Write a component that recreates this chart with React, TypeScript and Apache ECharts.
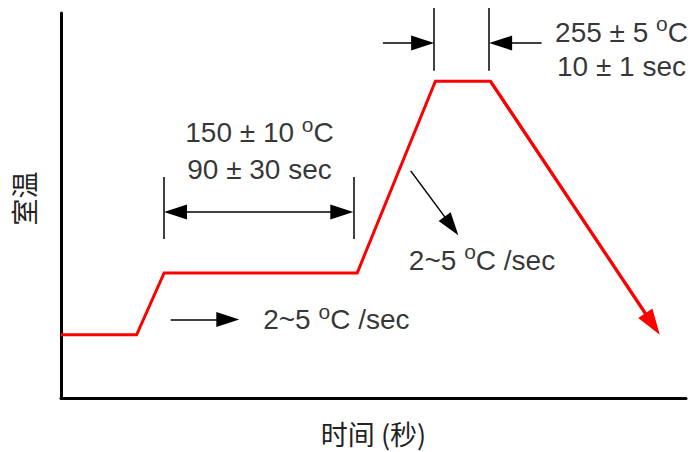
import React, { useEffect, useRef } from "react";
import * as echarts from "echarts";

// ---- data (schematic units: time 0..100, temperature 0..100) ----
const X_MAX = 100;
const Y_MAX = 100;
const profileTime = [0, 12.1, 16.5, 47.4, 59.9, 68.7, 95.8];
const profileTemp = [16.4, 16.4, 32.5, 32.5, 82.3, 82.3, 16.4];

// dimension marks
const soakTicks = [
  [[16.48, 57.4], [16.48, 41.3]],
  [[46.77, 57.4], [46.77, 41.3]],
];
const peakTicks = [
  [[59.7, 101.3], [59.7, 85.0]],
  [[68.5, 101.3], [68.5, 85.0]],
];
const soakSpan = [[16.48, 48.3], [46.77, 48.3]];
const singleArrows = [
  [[51.5, 92.2], [59.7, 92.2]],
  [[76.9, 92.2], [68.5, 92.2]],
  [[17.55, 20.4], [28.53, 20.4]],
  [[55.95, 59.0], [63.57, 42.3]],
];

// annotation texts
const noteTexts = [
  "150 ± 10 °C",
  "90 ± 30 sec",
  "255 ± 5 °C",
  "10 ± 1 sec",
  "2~5 °C /sec",
  "2~5 °C /sec",
];
const notePos = [
  [31.76, 68.96],
  [31.76, 59.35],
  [89.68, 94.94],
  [89.68, 86.23],
  [67.36, 35.84],
  [44.05, 20.26],
];

const xName = "时间 (秒)";
const yName = "室温";

// layout
const W = 691;
const H = 452;
const G_LEFT = 61;
const G_TOP = 13;
const G_W = 625;
const G_H = 385;
const KX = G_W / X_MAX;
const KY = G_H / Y_MAX;

function pullBack(from: number[], tip: number[], len: number) {
  const dx = (tip[0] - from[0]) * KX;
  const dy = (tip[1] - from[1]) * KY;
  const d = Math.hypot(dx, dy);
  return [tip[0] - (dx / d) * (len / 2) / KX, tip[1] - (dy / d) * (len / 2) / KY];
}

const BLACK_HEAD = [15, 23];
const RED_HEAD = [17, 26];

export default function App() {
  const ref = useRef<HTMLDivElement>(null);
  useEffect(() => {
    document.body.style.margin = "0";
    if (!ref.current) return;
    const chart = echarts.init(ref.current, null, { renderer: "svg" });

    const n = profileTime.length;
    const redFrom = [profileTime[n - 2], profileTemp[n - 2]];
    const redTip = [profileTime[n - 1], profileTemp[n - 1]];
    const redEnd = pullBack(redFrom, redTip, RED_HEAD[1]);
    const lineData = profileTime.slice(0, n - 1).map((t, i) => [t, profileTemp[i]]);
    lineData.push(redEnd);

    const spanA = pullBack(soakSpan[1], soakSpan[0], BLACK_HEAD[1]);
    const spanB = pullBack(soakSpan[0], soakSpan[1], BLACK_HEAD[1]);

    const fontFam = "'Liberation Sans', Arial, sans-serif";
    const cjk = "'Noto Sans CJK SC', sans-serif";

    chart.setOption({
      animation: false,
      grid: { left: G_LEFT, top: G_TOP, width: G_W, height: G_H },
      xAxis: {
        type: "value",
        min: 0,
        max: X_MAX,
        name: xName,
        nameLocation: "middle",
        nameGap: 22,
        nameTextStyle: { fontFamily: cjk, fontSize: 27, color: "#222" },
        axisLine: { show: true, onZero: false, lineStyle: { color: "#000", width: 3 } },
        axisTick: { show: false },
        axisLabel: { show: false },
        splitLine: { show: false },
      },
      yAxis: {
        type: "value",
        min: 0,
        max: Y_MAX,
        name: yName,
        nameLocation: "middle",
        nameRotate: 90,
        nameGap: 24,
        nameTextStyle: { fontFamily: cjk, fontSize: 27, color: "#222", padding: [0, 0, 0, 14] },
        axisLine: { show: true, onZero: false, lineStyle: { color: "#000", width: 3 } },
        axisTick: { show: false },
        axisLabel: { show: false },
        splitLine: { show: false },
      },
      series: [
        {
          type: "line",
          data: lineData,
          showSymbol: false,
          silent: true,
          lineStyle: { color: "#ff0000", width: 3, join: "miter" },
          z: 3,
        },
        {
          type: "lines",
          coordinateSystem: "cartesian2d",
          clip: false,
          silent: true,
          symbol: ["none", "triangle"],
          symbolSize: [RED_HEAD, RED_HEAD],
          lineStyle: { color: "#ff0000", width: 3, opacity: 1, curveness: 0 },
          itemStyle: { color: "#ff0000" },
          data: [{ coords: [redFrom, redEnd] }],
          z: 3,
        },
        {
          type: "lines",
          coordinateSystem: "cartesian2d",
          clip: false,
          silent: true,
          symbol: ["none", "none"],
          lineStyle: { color: "#000", width: 1.5, opacity: 1, curveness: 0 },
          data: [...soakTicks, ...peakTicks].map((c) => ({ coords: c })),
        },
        {
          type: "lines",
          coordinateSystem: "cartesian2d",
          clip: false,
          silent: true,
          symbol: ["none", "triangle"],
          symbolSize: [BLACK_HEAD, BLACK_HEAD],
          lineStyle: { color: "#000", width: 1.5, opacity: 1, curveness: 0 },
          itemStyle: { color: "#000" },
          data: singleArrows.map((c) => ({ coords: [c[0], pullBack(c[0], c[1], BLACK_HEAD[1])] })),
        },
        {
          type: "lines",
          coordinateSystem: "cartesian2d",
          clip: false,
          silent: true,
          symbol: ["triangle", "triangle"],
          symbolSize: [BLACK_HEAD, BLACK_HEAD],
          lineStyle: { color: "#000", width: 1.5, opacity: 1, curveness: 0 },
          itemStyle: { color: "#000" },
          data: [{ coords: [spanA, spanB] }],
        },
        {
          type: "scatter",
          silent: true,
          symbolSize: 0,
          clip: false,
          data: notePos.map((p, i) => ({ value: p, name: noteTexts[i] })),
          label: {
            show: true,
            position: "inside",
            formatter: (p: any) => p.name.replace("°", "{sup|o}"),
            color: "#000",
            fontFamily: fontFam,
            fontSize: 28,
            rich: {
              sup: { fontFamily: fontFam, fontSize: 21, color: "#000", verticalAlign: "top", height: 11 },
            },
          },
        },
      ],
    });
    return () => chart.dispose();
  }, []);
  return <div ref={ref} style={{ width: W, height: H }} />;
}
